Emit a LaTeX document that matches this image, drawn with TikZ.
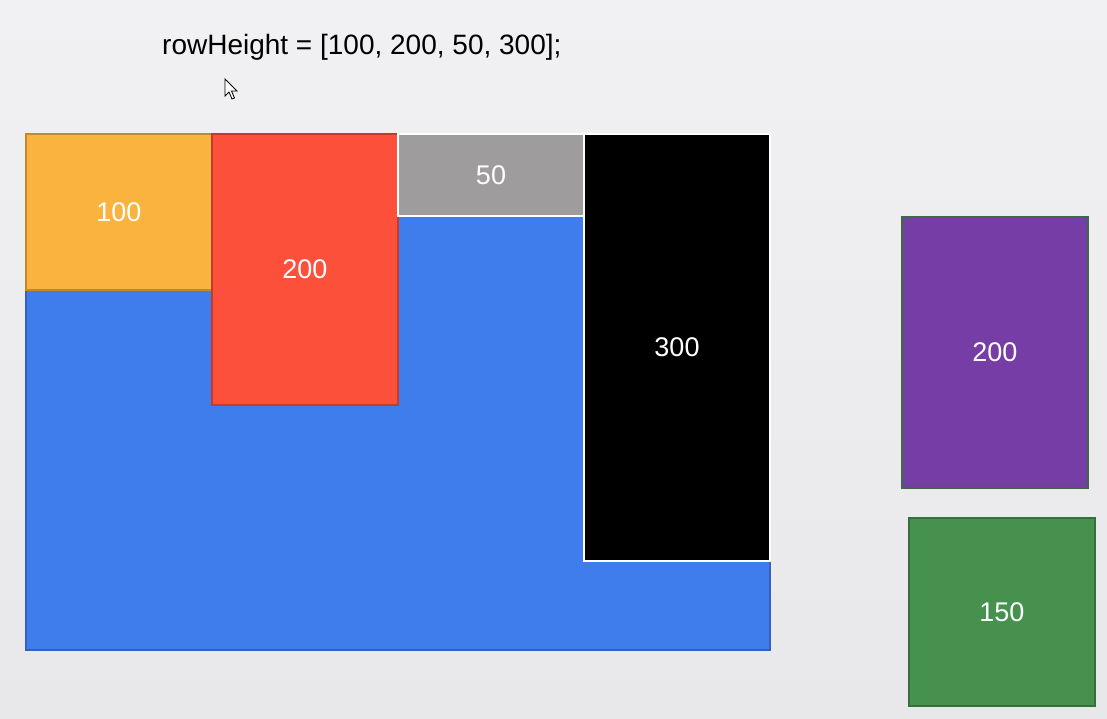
\documentclass[tikz,border=0pt]{standalone}
\usepackage{fontspec}
\setmainfont{Liberation Sans}
\definecolor{bgtop}{HTML}{F1F1F3}
\definecolor{bgbot}{HTML}{E8E7E9}
\definecolor{cblue}{HTML}{3F7DEC}
\definecolor{cblueb}{HTML}{3460BE}
\definecolor{corange}{HTML}{FBB33F}
\definecolor{coranb}{HTML}{C4882C}
\definecolor{cred}{HTML}{FC503B}
\definecolor{credb}{HTML}{C63A2C}
\definecolor{cgray}{HTML}{9E9C9D}
\definecolor{cpurple}{HTML}{763DA6}
\definecolor{cpurpb}{HTML}{3C6A44}
\definecolor{cgreen}{HTML}{47914F}
\definecolor{cgreenb}{HTML}{35703C}
\tikzset{
  blk/.style={rectangle, anchor=north west, inner sep=0pt, line width=1.6pt,
    text=white, font=\fontsize{27}{31}\selectfont},
}
\begin{document}
\begin{tikzpicture}[x=1pt,y=-1pt]
\useasboundingbox (0,0) rectangle (1107,719);
\shade[top color=bgtop, bottom color=bgbot] (0,0) rectangle (1107,719);
\node[anchor=base west, inner sep=0pt, font=\fontsize{28}{32}\selectfont] (code) at (162,55) {rowHeight = [100, 200, 50, 300];};
\draw[fill=white, line width=0.8pt, line join=miter] (225,79) -- (225,96) -- (229,92) -- (232,99) -- (234.5,98) -- (231.5,91) -- (237,91) -- cycle;
\node[blk, fill=cblue, draw=cblueb, minimum width=744pt, minimum height=516pt] (base) at (25,133) {};
\node[blk, fill=corange, draw=coranb, minimum width=186pt, minimum height=156pt] (r100) at (25,133) {100};
\node[blk, fill=cred, draw=credb, minimum width=186pt, minimum height=271pt] (r200) at (211,133) {200};
\node[blk, fill=cgray, draw=white, line width=2pt, minimum width=186pt, minimum height=82pt] (r50) at (397,133) {50};
\node[blk, fill=black, draw=white, line width=2pt, minimum width=186pt, minimum height=427pt] (r300) at (583,133) {300};
\node[blk, fill=cpurple, draw=cpurpb, minimum width=186pt, minimum height=271pt] (p200) at (901,216) {200};
\node[blk, fill=cgreen, draw=cgreenb, minimum width=186pt, minimum height=188pt] (g150) at (908,517) {150};
\end{tikzpicture}
\end{document}
